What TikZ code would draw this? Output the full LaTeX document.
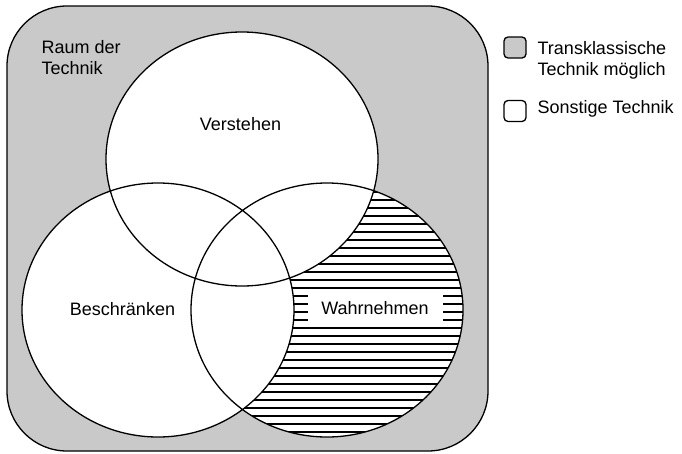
\documentclass[tikz,border=0pt]{standalone}
\usepackage{fontspec}
\setmainfont{Liberation Sans}
\usetikzlibrary{positioning}
\definecolor{raumgrau}{gray}{0.79}

\begin{document}
\begin{tikzpicture}[x=1pt,y=-1pt,line width=1.3pt,node font=\fontsize{18}{21}\selectfont]
	\tikzstyle{lbl}=[inner sep=0pt,align=left]
	\tikzstyle{key}=[draw,rounded corners=4pt,minimum width=22pt,minimum height=21pt,inner sep=0pt]
	\tikzstyle{kreis}=[x radius=136pt,y radius=127pt]
	\useasboundingbox (0,0) rectangle (682,453);
	
	% Raum der Technik
	\filldraw[fill=raumgrau,rounded corners=60pt] (7,6) rectangle (488,451);
	\fill[white] (242,159) ellipse [kreis] (158,310) ellipse [kreis] (327,310) ellipse [kreis];
	
	% Schraffur
	\begin{scope}
		\clip (327,310) ellipse [kreis];
		\foreach \y in {184,192,...,440}
			\draw[line width=1.5pt] (180,\y) -- (470,\y);
	\end{scope}
	\fill[white] (242,159) ellipse [kreis] (158,310) ellipse [kreis];
	\draw (242,159) ellipse [kreis] (158,310) ellipse [kreis] (327,310) ellipse [kreis];
	
	\node[lbl,anchor=north west] (RAUM) at (41,40) {Raum der\\Technik};
	\node[lbl,anchor=base] (VER) at (240.5,130) {Verstehen};
	\node[lbl,anchor=base] (BES) at (122.5,315) {Beschränken};
	\node[fill=white,minimum width=135pt,minimum height=32pt,inner sep=0pt] (WAHR) at (375,308) {Wahrnehmen};
	
	% Legende
	\node[key,fill=raumgrau] (KG) at (515,47.5) {};
	\node[lbl,anchor=north west] (TRANS) at (537,41) {Transklassische\\Technik möglich};
	\node[key,fill=white] (KW) at (515,111) {};
	\node[lbl,anchor=north west] (SONST) at (537,100) {Sonstige Technik};
\end{tikzpicture}
\end{document}
